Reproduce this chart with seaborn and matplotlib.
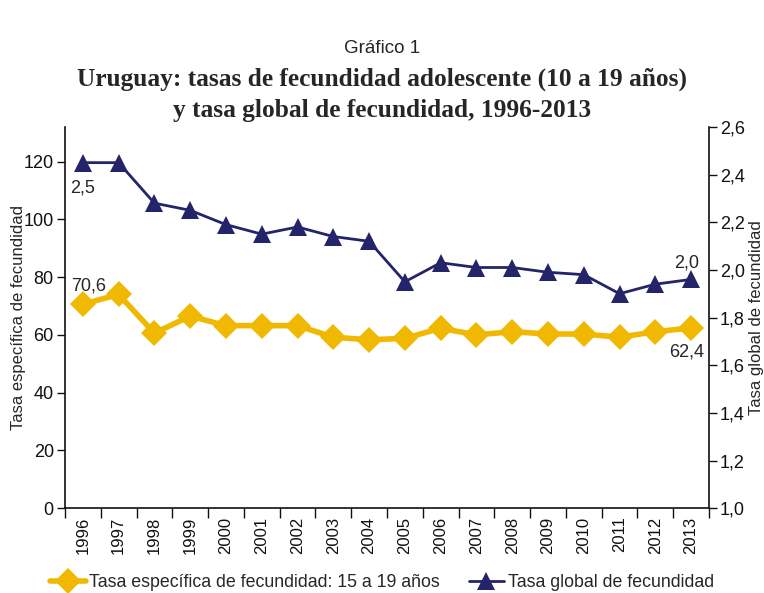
import matplotlib.pyplot as plt
import pandas as pd
import seaborn as sns
from matplotlib.lines import Line2D
from matplotlib.ticker import FuncFormatter

YEARS = list(range(1996, 2014))
ADOLESCENT_RATE = [70.6, 74.0, 60.6, 66.5, 63.2, 63.2, 63.2, 59.2, 58.3, 58.8,
                   62.3, 60.0, 61.1, 60.3, 60.3, 59.2, 61.1, 62.4]
GLOBAL_RATE = [2.45, 2.45, 2.28, 2.25, 2.19, 2.15, 2.18, 2.14, 2.12, 1.95,
               2.03, 2.01, 2.01, 1.99, 1.98, 1.90, 1.94, 1.96]
YELLOW = "#F0B800"
NAVY = "#24246A"


def main() -> None:
    sns.set_theme(style="ticks")
    plt.rcParams["font.family"] = ["Liberation Sans", "DejaVu Sans"]

    df = pd.DataFrame({"year": YEARS, "teen": ADOLESCENT_RATE, "tgf": GLOBAL_RATE})

    fig = plt.figure(figsize=(7.64, 5.93), dpi=100)
    ax = fig.add_axes([0.085, 0.143, 0.843, 0.643])
    ax2 = ax.twinx()

    sns.lineplot(data=df, x="year", y="teen", ax=ax, color=YELLOW, lw=4,
                 marker="D", markersize=13, markeredgewidth=0)
    sns.lineplot(data=df, x="year", y="tgf", ax=ax2, color=NAVY, lw=2,
                 marker="^", markersize=13, markeredgewidth=0)

    ax.set_xlim(1995.5, 2013.5)
    ax.set_ylim(0, 132)
    ax2.set_ylim(1.0, 2.6)
    ax.set_yticks(range(0, 121, 20))
    ax2.set_yticks([1.0, 1.2, 1.4, 1.6, 1.8, 2.0, 2.2, 2.4, 2.6])
    ax2.yaxis.set_major_formatter(FuncFormatter(lambda v, _: f"{v:.1f}".replace(".", ",")))

    ax.set_xticks(YEARS)
    ax.set_xticklabels([str(y) for y in YEARS], rotation=90)
    ax.set_xticks([y + 0.5 for y in range(1995, 2014)], minor=True)
    ax.tick_params(axis="x", which="major", length=0, pad=6, labelsize=12, colors="#111111")
    ax.tick_params(axis="x", which="minor", length=7, width=1, color="#111111")
    ax.tick_params(axis="y", length=6, width=1, labelsize=13, colors="#111111", pad=2)
    ax2.tick_params(axis="y", length=6, width=1, labelsize=13, colors="#111111", pad=2)

    for a in (ax, ax2):
        a.spines["top"].set_visible(False)
        for s in ("left", "right", "bottom"):
            a.spines[s].set_color("#111111")
            a.spines[s].set_linewidth(1.2)
        a.grid(False)
    ax.spines["right"].set_visible(False)
    ax2.spines["left"].set_visible(False)
    ax2.spines["bottom"].set_visible(False)

    ax.set_xlabel("")
    ax.set_ylabel("Tasa específica de fecundidad", fontsize=12, labelpad=-2)
    ax2.set_ylabel("Tasa global de fecundidad", fontsize=12, labelpad=3)

    ax.annotate("70,6", (1996, ADOLESCENT_RATE[0]), xytext=(4, 7), textcoords="offset points",
                ha="center", va="bottom", fontsize=13)
    ax2.annotate("2,5", (1996, GLOBAL_RATE[0]), xytext=(0, -12), textcoords="offset points",
                 ha="center", va="top", fontsize=13)
    ax2.annotate("2,0", (2013, GLOBAL_RATE[-1]), xytext=(-3, 6), textcoords="offset points",
                 ha="center", va="bottom", fontsize=13)
    ax.annotate("62,4", (2013, ADOLESCENT_RATE[-1]), xytext=(-3, -11), textcoords="offset points",
                ha="center", va="top", fontsize=13)

    fig.text(0.5, 0.918, "Gráfico 1", ha="center", va="center", fontsize=13.5)
    fig.text(0.5, 0.84, "Uruguay: tasas de fecundidad adolescente (10 a 19 años)\ny tasa global de fecundidad, 1996-2013",
             ha="center", va="center", fontsize=18.3, fontweight="bold", linespacing=1.4,
             family=["Liberation Serif", "DejaVu Serif"])

    handles = [
        Line2D([], [], color=YELLOW, lw=4, marker="D", markersize=13, markeredgewidth=0),
        Line2D([], [], color=NAVY, lw=2, marker="^", markersize=13, markeredgewidth=0),
    ]
    fig.legend(handles, ["Tasa específica de fecundidad: 15 a 19 años", "Tasa global de fecundidad"],
               loc="center", bbox_to_anchor=(0.5, 0.017), ncol=2, frameon=False, fontsize=12.8,
               handlelength=2.0, columnspacing=1.6, handletextpad=0.2)

    fig.savefig("out.png", dpi=100)
    plt.close(fig)


if __name__ == "__main__":
    main()
